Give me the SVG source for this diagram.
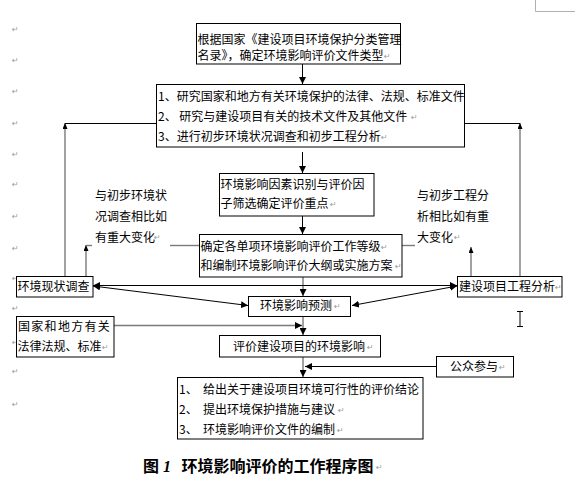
<svg xmlns="http://www.w3.org/2000/svg" width="575" height="488" viewBox="0 0 575 488">
<style>
.box{fill:#fff;stroke:#000;stroke-width:1}
.t{font-family:"Noto Sans CJK SC","Noto Sans CJK JP",sans-serif;font-size:12px;fill:#000}
.pm{font-family:"DejaVu Sans",sans-serif;font-size:8px;fill:#9a9a9a}
.ln{stroke:#000;stroke-width:1;fill:none}
.gl{stroke:#7a7a7a;stroke-width:1.4;fill:none}
.cap{font-family:"Noto Sans CJK SC","Noto Sans CJK JP",sans-serif;font-size:16px;font-weight:700;fill:#000}
.capn{font-family:"Liberation Serif",serif;font-size:16px;font-weight:700;font-style:italic;fill:#000}
</style>
<defs>
<marker id="ah" viewBox="0 0 10 10" refX="10" refY="5" markerWidth="7" markerHeight="7" markerUnits="userSpaceOnUse" orient="auto-start-reverse" preserveAspectRatio="none"><path d="M0,0 L10,5 L0,10 z" fill="#000"/></marker>
<marker id="as" viewBox="0 0 10 10" refX="10" refY="5" markerWidth="6" markerHeight="5" markerUnits="userSpaceOnUse" orient="auto-start-reverse" preserveAspectRatio="none"><path d="M0,0 L10,5 L0,10 z" fill="#000"/></marker>
</defs>
<rect width="575" height="488" fill="#fff"/>
<path d="M535.5,0 V11.5 H575" fill="none" stroke="#b0b0b0" stroke-width="1"/>
<g id="margin-marks">
<text class="pm" x="12" y="32">↵</text>
<text class="pm" x="12" y="63">↵</text>
<text class="pm" x="12" y="94">↵</text>
<text class="pm" x="12" y="126">↵</text>
<text class="pm" x="12" y="157">↵</text>
<text class="pm" x="12" y="187">↵</text>
<text class="pm" x="12" y="219">↵</text>
<text class="pm" x="12" y="251">↵</text>
<text class="pm" x="12" y="281">↵</text>
<text class="pm" x="12" y="311">↵</text>
<text class="pm" x="12" y="345">↵</text>
<text class="pm" x="12" y="374">↵</text>
<text class="pm" x="12" y="407">↵</text>
</g>
<g id="connectors">
<line class="ln" x1="302.5" y1="64" x2="302.5" y2="84" marker-end="url(#ah)"/>
<line class="ln" x1="302.5" y1="152" x2="302.5" y2="173" marker-end="url(#ah)"/>
<line class="ln" x1="302.5" y1="216" x2="302.5" y2="234" marker-end="url(#ah)"/>
<line class="gl" x1="303" y1="277" x2="303" y2="296" marker-end="url(#ah)"/>
<line class="gl" x1="303" y1="316" x2="303" y2="335" marker-end="url(#ah)"/>
<line class="gl" x1="303" y1="357" x2="303" y2="377" marker-end="url(#ah)"/>
<line class="gl" x1="114" y1="325.5" x2="302" y2="325.5" marker-end="url(#ah)"/>
<line class="ln" x1="436" y1="366.5" x2="305" y2="366.5" marker-end="url(#ah)"/>
<line class="ln" x1="93" y1="285.5" x2="457" y2="285.5" marker-start="url(#ah)" marker-end="url(#ah)"/>
<line class="ln" x1="93" y1="286" x2="248" y2="305.5" marker-start="url(#ah)" marker-end="url(#ah)"/>
<line class="ln" x1="457" y1="286" x2="352" y2="305.5" marker-start="url(#ah)" marker-end="url(#ah)"/>
<line class="gl" x1="65" y1="276" x2="65" y2="123" marker-end="url(#as)"/>
<line class="ln" x1="65" y1="123.5" x2="157" y2="123.5"/>
<line class="gl" x1="520" y1="276" x2="520" y2="123" marker-end="url(#as)"/>
<line class="ln" x1="464" y1="123.5" x2="520" y2="123.5"/>
<line class="gl" x1="86" y1="276" x2="86" y2="245" marker-end="url(#as)"/>
<line class="gl" x1="86" y1="245.5" x2="92" y2="245.5"/>
<line class="gl" x1="471" y1="276" x2="471" y2="247" marker-end="url(#as)"/>
<line class="gl" x1="170" y1="245.5" x2="199" y2="245.5"/>
<line class="gl" x1="402" y1="245.5" x2="415" y2="245.5"/>
</g>
<g id="n-category">
<rect class="box" x="196.5" y="23.5" width="204" height="40.5"/>
<text class="t" x="197.5" y="44">根据国家《建设项目环境保护分类管理</text>
<text class="t" x="197.5" y="59.5">名录》，确定环境影响评价文件类型</text>
<text class="pm" x="384" y="59">↵</text>
</g>
<g id="n-research">
<rect class="box" x="156.5" y="84.5" width="308" height="62.5"/>
<text class="t" x="158" y="100.5">1、研究国家和地方有关环境保护的法律、法规、标准文件</text>
<text class="t" x="158" y="121">2、 研究与建设项目有关的技术文件及其他文件</text>
<text class="t" x="158" y="140.5">3、进行初步环境状况调查和初步工程分析</text>
<text class="pm" x="411" y="120">↵</text>
<text class="pm" x="381" y="140">↵</text>
</g>
<g id="n-factor">
<rect class="box" x="219.5" y="173.5" width="154.5" height="42.5"/>
<text class="t" x="220.5" y="188.5">环境影响因素识别与评价因</text>
<text class="t" x="220.5" y="208">子筛选确定评价重点</text>
<text class="pm" x="330" y="207">↵</text>
</g>
<g id="n-grade">
<rect class="box" x="199.5" y="234.5" width="202.5" height="42.5"/>
<text class="t" x="200.5" y="251">确定各单项环境影响评价工作等级</text>
<text class="t" x="200.5" y="270">和编制环境影响评价大纲或实施方案</text>
<text class="pm" x="381" y="250">↵</text>
<text class="pm" x="395" y="269">↵</text>
</g>
<g id="n-note-left">
<text class="t" x="95" y="199.5">与初步环境状</text>
<text class="t" x="95" y="220.5">况调查相比如</text>
<text class="t" x="95" y="241.5">有重大变化</text>
<text class="pm" x="154" y="240">↵</text>
</g>
<g id="n-note-right">
<text class="t" x="417" y="199.5">与初步工程分</text>
<text class="t" x="417" y="220.5">析相比如有重</text>
<text class="t" x="417" y="241.5">大变化</text>
<text class="pm" x="454" y="240">↵</text>
</g>
<g id="n-survey">
<rect class="box" x="16.5" y="276.5" width="76.5" height="20.5"/>
<text class="t" x="17.5" y="291">环境现状调查</text>
</g>
<g id="n-engineering">
<rect class="box" x="457.5" y="276.5" width="104.5" height="20.5"/>
<text class="t" x="459" y="290.5">建设项目工程分析</text>
<text class="pm" x="555" y="290">↵</text>
</g>
<g id="n-predict">
<rect class="box" x="248.5" y="296.5" width="102" height="20"/>
<text class="t" x="260" y="310">环境影响预测</text>
<text class="pm" x="334" y="309">↵</text>
</g>
<g id="n-law">
<rect class="box" x="16.5" y="316.5" width="97.5" height="40.5"/>
<text class="t" x="18" y="331" letter-spacing="1.3">国家和地方有关</text>
<text class="t" x="17.5" y="351">法律法规、标准</text>
<text class="pm" x="102" y="350">↵</text>
</g>
<g id="n-assess">
<rect class="box" x="219.5" y="335.5" width="161" height="21.5"/>
<text class="t" x="233" y="350.5">评价建设项目的环境影响</text>
<text class="pm" x="367" y="350">↵</text>
</g>
<g id="n-public">
<rect class="box" x="436.5" y="356.5" width="77" height="20.5"/>
<text class="t" x="450" y="371">公众参与</text>
<text class="pm" x="499" y="370">↵</text>
</g>
<g id="n-conclusion">
<rect class="box" x="177.5" y="377.5" width="245.5" height="61.5"/>
<text class="t" x="179" y="393.5">1、</text>
<text class="t" x="203" y="393.5">给出关于建设项目环境可行性的评价结论</text>
<text class="t" x="179" y="413.5">2、</text>
<text class="t" x="203" y="413.5">提出环境保护措施与建议</text>
<text class="pm" x="338" y="413">↵</text>
<text class="t" x="179" y="433.5">3、</text>
<text class="t" x="203" y="433.5">环境影响评价文件的编制</text>
<text class="pm" x="337" y="433">↵</text>
</g>
<g id="caption">
<text class="cap" x="143" y="471.5">图</text>
<text class="capn" x="163" y="471.5">1</text>
<text class="cap" x="181.5" y="471.5">环境影响评价的工作程序图</text>
<text class="pm" x="376" y="470">↵</text>
</g>
<path d="M517,311.5 H523 M520,311.5 V326.5 M517,326.5 H523" stroke="#000" stroke-width="1" fill="none"/>
</svg>
